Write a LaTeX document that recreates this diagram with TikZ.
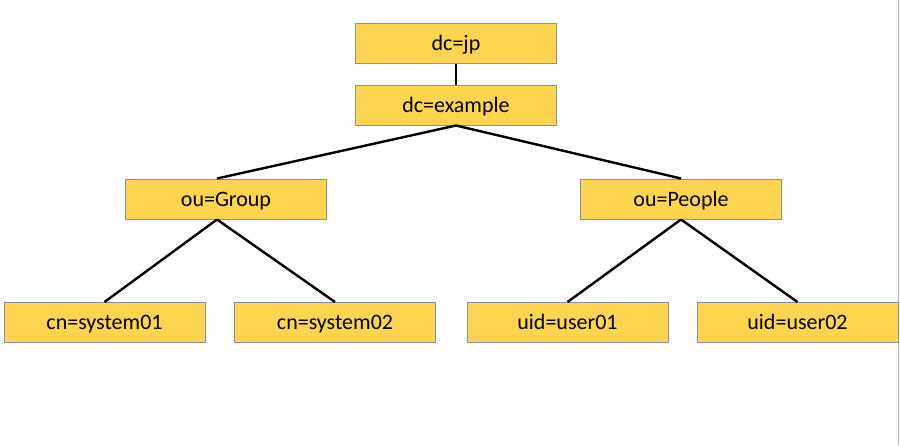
\documentclass[tikz,border=0pt]{standalone}
\usepackage{fontspec}
\setmainfont{Carlito}
\definecolor{boxfill}{RGB}{255,213,79}
\definecolor{boxedge}{RGB}{130,145,170}
\definecolor{edgegray}{RGB}{180,180,180}
\begin{document}
\begin{tikzpicture}[x=1pt,y=-1pt,
  ldapbox/.style={draw=boxedge, line width=1pt, fill=boxfill, minimum width=201pt, minimum height=40pt, inner sep=0pt, text height=18pt, text depth=4pt, font=\fontsize{22}{26}\selectfont},
  link/.style={line width=2.4pt, black}]
\useasboundingbox (0,0) rectangle (900,445);
\fill[white] (0,0) rectangle (900,445);
\draw[edgegray, line width=1.5pt] (898.5,0) -- (898.5,445);
\node[ldapbox] (jp) at (456,43) {dc=jp};
\node[ldapbox] (ex) at (456,105) {dc=example};
\node[ldapbox] (grp) at (226,199) {ou=Group};
\node[ldapbox] (ppl) at (681,199) {ou=People};
\node[ldapbox] (s1) at (104.5,322.5) {cn=system01};
\node[ldapbox] (s2) at (335,322.5) {cn=system02};
\node[ldapbox] (u1) at (567.5,322.5) {uid=user01};
\node[ldapbox] (u2) at (797.5,322.5) {uid=user02};
\draw[link] (jp.south) -- (ex.north);
\draw[link] (ex.south) -- ([xshift=-9pt]grp.north);
\draw[link] (ex.south) -- (ppl.north);
\draw[link] ([xshift=-9pt]grp.south) -- (s1.north);
\draw[link] ([xshift=-9pt]grp.south) -- (s2.north);
\draw[link] (ppl.south) -- (u1.north);
\draw[link] (ppl.south) -- (u2.north);
\end{tikzpicture}
\end{document}
